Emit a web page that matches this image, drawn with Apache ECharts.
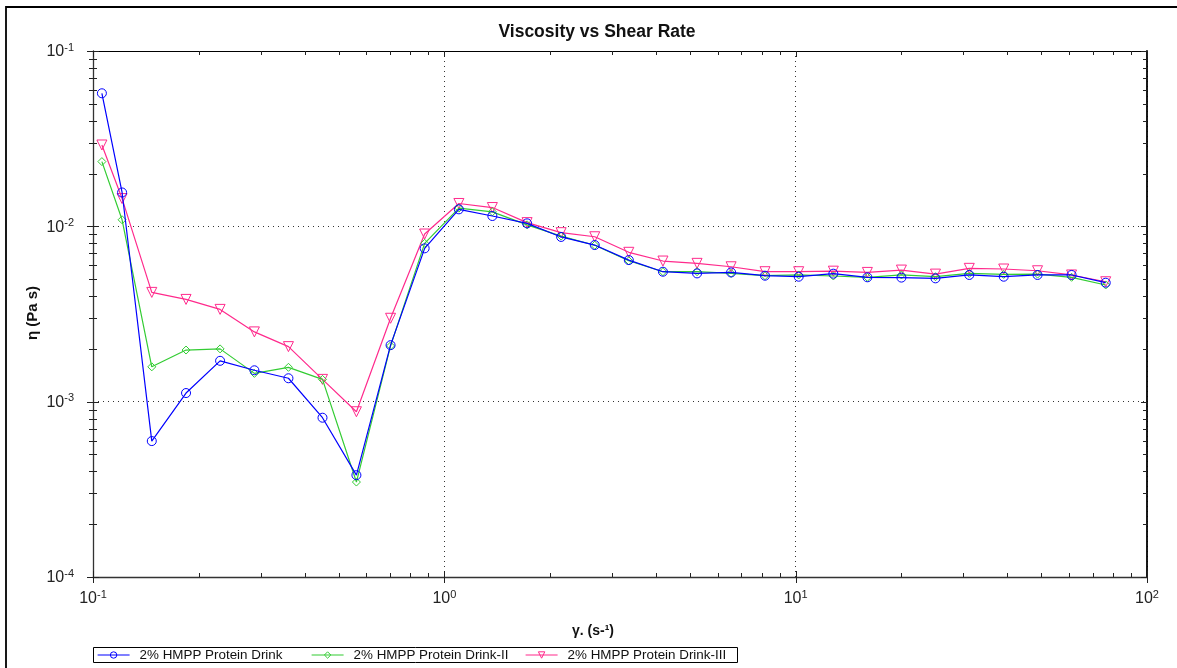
<!DOCTYPE html>
<html><head><meta charset="utf-8">
<script src="https://cdn.jsdelivr.net/npm/echarts@6/dist/echarts.min.js"></script>
<style>html,body{margin:0;padding:0;background:#fff}#c{width:1177px;height:668px}</style>
</head><body><div id="c"></div>
<script>
// Shear rate (1/s)
const shearRate = [0.106,0.121,0.147,0.184,0.230,0.288,0.360,0.450,0.562,0.703,0.879,1.10,1.37,1.72,2.15,2.68,3.35,4.19,5.24,6.55,8.18,10.2,12.8,16.0,20.0,25.0,31.2,39.1,48.8,61.0,76.3];
// Viscosity (Pa s)
const drinkI   = [0.0574,0.0156,0.000596,0.00112,0.00171,0.00151,0.00136,0.00081,0.000381,0.00210,0.00749,0.0125,0.01145,0.0104,0.0087,0.00782,0.00642,0.00551,0.00539,0.00546,0.00523,0.00516,0.00537,0.00512,0.00510,0.00505,0.00528,0.00516,0.00528,0.00528,0.00477];
const drinkII  = [0.0234,0.0109,0.00158,0.00197,0.00200,0.00145,0.00157,0.00134,0.000348,0.00208,0.0080,0.0127,0.0121,0.0102,0.0088,0.0078,0.00636,0.00551,0.00551,0.00539,0.00523,0.00528,0.00521,0.00512,0.00528,0.00516,0.00539,0.00532,0.00534,0.00512,0.00463];
const drinkIII = [0.0291,0.0144,0.00420,0.00383,0.00336,0.00250,0.00206,0.00134,0.000876,0.00299,0.00904,0.0135,0.0128,0.0105,0.0092,0.00872,0.00711,0.00634,0.00615,0.00588,0.00551,0.00551,0.00555,0.00546,0.00563,0.00534,0.00576,0.00571,0.00558,0.00528,0.00483];
const seriesNames = ['2% HMPP Protein Drink','2% HMPP Protein Drink-II','2% HMPP Protein Drink-III'];
const seriesColors = ['#0000ff','#33cc33','#ff2a8c'];
// axis ticks
const xMajorTicks = [0.1,1,10,100];
const yMajorTicks = [0.0001,0.001,0.01,0.1];
const minorSteps = [2,3,4,5,6,7,8,9];

const FONT = '"Liberation Sans", Arial, sans-serif';
const tickData = [];
xMajorTicks.forEach((d,i)=>{ tickData.push([d,0.01,1]); if(i<xMajorTicks.length-1) minorSteps.forEach(m=>tickData.push([d*m,0.01,0])); });
yMajorTicks.forEach((d,i)=>{ tickData.push([1,d,3]); if(i<yMajorTicks.length-1) minorSteps.forEach(m=>tickData.push([1,d*m,2])); });

function renderTick(params, api){
  const cs = params.coordSys;
  const kind = api.value(2);
  const st = {stroke:'#222', lineWidth:1};
  const ch = [];
  if (kind < 2){
    const x = Math.round(api.coord([api.value(0),0.01])[0]) + 0.5;
    const bot = cs.y + cs.height, top = cs.y;
    const L = kind===1 ? 6 : 4;
    ch.push({type:'line', shape:{x1:x,y1:bot-L,x2:x,y2:bot+(kind===1?L:0)}, style:st});
    ch.push({type:'line', shape:{x1:x,y1:top,x2:x,y2:top+L}, style:st});
  } else {
    const y = Math.round(api.coord([1,api.value(1)])[1]) + 0.5;
    const l = cs.x, r = cs.x + cs.width;
    const L = kind===3 ? 6 : 4;
    ch.push({type:'line', shape:{x1:l-L,y1:y,x2:l+L,y2:y}, style:st});
    ch.push({type:'line', shape:{x1:r-L,y1:y,x2:r,y2:y}, style:st});
  }
  return {type:'group', children:ch};
}

const powLabel = v => { const e = Math.round(Math.log10(v)); return '{b|10}{s|' + e + '}'; };
const labelRich = {
  b:{fontSize:16, fontFamily:FONT, color:'#222', verticalAlign:'bottom'},
  s:{fontSize:11, fontFamily:FONT, color:'#222', verticalAlign:'bottom', padding:[0,0,7,0]}
};

function lineSeries(idx, vals, symbol, size, z, rot){
  const color = seriesColors[idx];
  return {
    type:'line', name:seriesNames[idx], z:z, color:color,
    data: shearRate.map((x,i)=>[x, vals[i]]),
    symbol:symbol, symbolSize:size, symbolRotate: rot||0, showAllSymbol:true,
    lineStyle:{color:color, width:1.2},
    itemStyle:{color:'rgba(255,255,255,0)', borderColor:color, borderWidth:1},
    emphasis:{disabled:true}, animation:false
  };
}

const legendLefts = [97, 311, 525];
const legends = seriesNames.map((n,i)=>({
  data:[{name:n, itemStyle:{color:'rgba(255,255,255,0)', borderColor:seriesColors[i], borderWidth:1},
         lineStyle:{color:seriesColors[i], width:1.2}}],
  left:legendLefts[i], top:647, itemWidth:32, itemHeight:8, padding:0, selectedMode:false,
  textStyle:{fontSize:13.4, color:'#111', fontFamily:FONT, padding:[0,0,0,5], lineHeight:16}
}));

const chart = echarts.init(document.getElementById('c'), null, {renderer:'canvas'});
chart.setOption({
  backgroundColor:'#fff',
  animation:false,
  title:{text:'Viscosity vs Shear Rate', left:592, textAlign:'center', top:18,
    textStyle:{fontSize:17.5, fontWeight:'bold', color:'#111', fontFamily:FONT}},
  grid:{left:93, top:51, width:1054, height:526},
  legend:legends,
  xAxis:[
    {type:'log', logBase:10, min:0.1, max:100, position:'bottom',
     axisLine:{show:true, lineStyle:{color:'#333', width:1.3}},
     axisTick:{show:false}, minorTick:{show:false},
     axisLabel:{formatter:powLabel, margin:12, rich:labelRich},
     splitLine:{show:true, lineStyle:{type:[1,4], color:'#333', width:1}}},
    {type:'log', logBase:10, min:0.1, max:100, position:'top',
     axisLine:{show:true, lineStyle:{color:'#000', width:1.2}},
     axisTick:{show:false}, axisLabel:{show:false}, splitLine:{show:false}}
  ],
  yAxis:[
    {type:'log', logBase:10, min:0.0001, max:0.1, position:'left',
     axisLine:{show:true, lineStyle:{color:'#333', width:1.3}},
     axisTick:{show:false}, minorTick:{show:false},
     axisLabel:{formatter:powLabel, margin:19, rich:labelRich},
     splitLine:{show:true, lineStyle:{type:[1,4], color:'#333', width:1}}},
    {type:'log', logBase:10, min:0.0001, max:0.1, position:'right',
     axisLine:{show:true, lineStyle:{color:'#000', width:1.8}},
     axisTick:{show:false}, axisLabel:{show:false}, splitLine:{show:false}}
  ],
  graphic:[
    {type:'rect', shape:{x:6, y:7, width:1200, height:700}, style:{fill:'none', stroke:'#000', lineWidth:1.8}, silent:true},
    {type:'rect', shape:{x:93.5, y:647.5, width:644, height:15}, style:{fill:'none', stroke:'#000', lineWidth:1}, silent:true},
    {type:'text', x:33, y:313, rotation:Math.PI/2, style:{text:'η (Pa s)', font:'bold 15px ' + FONT, fill:'#111', align:'center', verticalAlign:'middle'}, silent:true},
    {type:'text', x:593, y:631, style:{text:'γ. (s-¹)', font:'bold 14px ' + FONT, fill:'#111', align:'center', verticalAlign:'middle'}, silent:true}
  ],
  series:[
    lineSeries(0, drinkI, 'circle', 9, 5),
    lineSeries(1, drinkII, 'diamond', 8, 4),
    lineSeries(2, drinkIII, 'triangle', 10, 3, 180),
    {type:'custom', name:'ticks', data:tickData, renderItem:renderTick, silent:true, clip:false, z:10,
     encode:{x:0, y:1}, xAxisIndex:0, yAxisIndex:0, animation:false}
  ]
});
</script></body></html>
